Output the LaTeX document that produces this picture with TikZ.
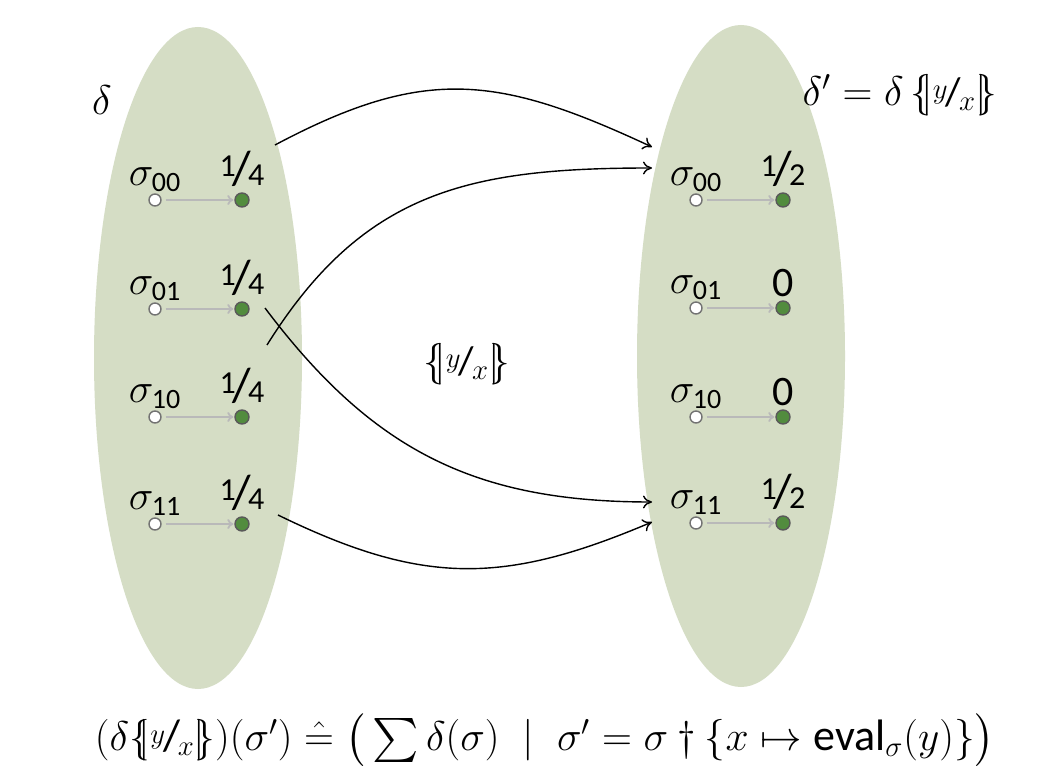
\documentclass[tikz,border=0pt]{standalone}
\usepackage{amsmath,amssymb}
\usepackage{fontspec}
\setmainfont{Carlito}
\usetikzlibrary{arrows.meta,positioning,shapes.geometric}

\definecolor{blobgreen}{RGB}{213,221,197}
\definecolor{dotgreen}{RGB}{82,140,62}

% slanted value fraction, e.g. 1/4
\newcommand{\vfrac}[2]{\raisebox{.55ex}{\fontsize{16}{16}\selectfont #1}\kern-.1em{\fontsize{24}{24}\selectfont/}\kern-.1em\raisebox{-.05ex}{\fontsize{16}{16}\selectfont #2}}
% substitution brackets {| y/x |}
\newcommand{\subst}[2]{\{\kern-.25em|\mbox{\raisebox{.35ex}{$\scriptstyle #1$}\kern-.05em/\kern-.05em\raisebox{-.25ex}{$\scriptstyle #2$}}|\kern-.25em\}}
\newcommand{\sig}[1]{\sigma_{\text{#1}}}

\begin{document}
\begin{tikzpicture}[x=0.5pt, y=0.5pt,
    blob/.style={ellipse, fill=blobgreen, minimum width=104pt,
                 minimum height=331pt, inner sep=0pt},
    src/.style={circle, draw=gray!90!black, fill=white, line width=0.7pt,
                minimum size=6pt, inner sep=0pt},
    dst/.style={circle, draw=gray!70!black, fill=dotgreen, line width=0.7pt,
                minimum size=7pt, inner sep=0pt},
    lab/.style={inner sep=0.5pt, font=\fontsize{20}{24}\selectfont},
    val/.style={inner sep=0.5pt, font=\fontsize{16}{20}\selectfont},
    zero/.style={val, font=\fontsize{21}{24}\selectfont},
    flow/.style={-{To[length=3pt,width=5pt]}, gray!55, line width=0.9pt,
                 shorten <=2pt, shorten >=0.5pt},
    arrow/.style={-{To[length=4.5pt,width=6.5pt]}, line width=0.7pt},
    formula/.style={font=\fontsize{22}{26}\selectfont},
  ]
  \useasboundingbox[fill=white] (0,0) rectangle (1042,782);

  \node[blob] (dl) at (198,424) {};
  \node[blob] (dr) at (741,426) {};

  % left distribution
  \node[src] (l00) at (155,582) {};
  \node[dst] (l00v) at (242,582) {};
  \node[src] (l01) at (155,473) {};
  \node[dst] (l01v) at (242,473) {};
  \node[src] (l10) at (155,365) {};
  \node[dst] (l10v) at (242,365) {};
  \node[src] (l11) at (155,258) {};
  \node[dst] (l11v) at (242,258) {};

  \node[lab, above=0pt of l00] {$\sig{00}$};
  \node[lab, above=0pt of l01] {$\sig{01}$};
  \node[lab, above=0pt of l10] {$\sig{10}$};
  \node[lab, above=0pt of l11] {$\sig{11}$};
  \node[val, above=2pt of l00v] {\vfrac{1}{4}};
  \node[val, above=2pt of l01v] {\vfrac{1}{4}};
  \node[val, above=2pt of l10v] {\vfrac{1}{4}};
  \node[val, above=2pt of l11v] {\vfrac{1}{4}};

  \draw[flow] (l00) -- (l00v);
  \draw[flow] (l01) -- (l01v);
  \draw[flow] (l10) -- (l10v);
  \draw[flow] (l11) -- (l11v);

  % right distribution
  \node[src] (r00) at (696,582) {};
  \node[dst] (r00v) at (783,582) {};
  \node[src] (r01) at (696,474) {};
  \node[dst] (r01v) at (783,474) {};
  \node[src] (r10) at (696,365) {};
  \node[dst] (r10v) at (783,365) {};
  \node[src] (r11) at (696,259) {};
  \node[dst] (r11v) at (783,259) {};

  \node[lab, above=0pt of r00] {$\sig{00}$};
  \node[lab, above=0pt of r01] {$\sig{01}$};
  \node[lab, above=0pt of r10] {$\sig{10}$};
  \node[lab, above=0pt of r11] {$\sig{11}$};
  \node[val, above=2pt of r00v] {\vfrac{1}{2}};
  \node[zero, above=1pt of r01v] {0};
  \node[zero, above=1pt of r10v] {0};
  \node[val, above=2pt of r11v] {\vfrac{1}{2}};

  \draw[flow] (r00) -- (r00v);
  \draw[flow] (r01) -- (r01v);
  \draw[flow] (r10) -- (r10v);
  \draw[flow] (r11) -- (r11v);

  % substitution moves mass
  \coordinate (c1a) at (275,637);
  \coordinate (c1b) at (652,635);
  \coordinate (c2a) at (267,437);
  \coordinate (c2b) at (652,614);
  \coordinate (c3a) at (265,474);
  \coordinate (c3b) at (652,280);
  \coordinate (c4a) at (278,267);
  \coordinate (c4b) at (652,260);
  \draw[arrow] (c1a) to[out=28, in=155, looseness=1.15] (c1b);
  \draw[arrow] (c2a) to[out=58, in=180, looseness=1.1] (c2b);
  \draw[arrow] (c3a) to[out=-53, in=180, looseness=1.05] (c3b);
  \draw[arrow] (c4a) to[out=-26, in=-157, looseness=1.1] (c4b);

  \node[formula] (dname) at (102,682) {$\delta$};
  \node[formula, font=\fontsize{20}{24}\selectfont] (dpname) at (900,687) {$\delta' = \delta\,\subst{y}{x}$};
  \node[formula, font=\fontsize{20}{24}\selectfont] (sname) at (467,418) {$\subst{y}{x}$};
  \node[formula] (defn) at (545,42)
    {$(\delta\subst{y}{x})(\sigma') \mathrel{\hat{=}} \big(\sum \delta(\sigma) \;\;|\;\; \sigma' = \sigma \dagger \{x \mapsto \text{eval}_\sigma(y)\}\big)$};
\end{tikzpicture}
\end{document}
